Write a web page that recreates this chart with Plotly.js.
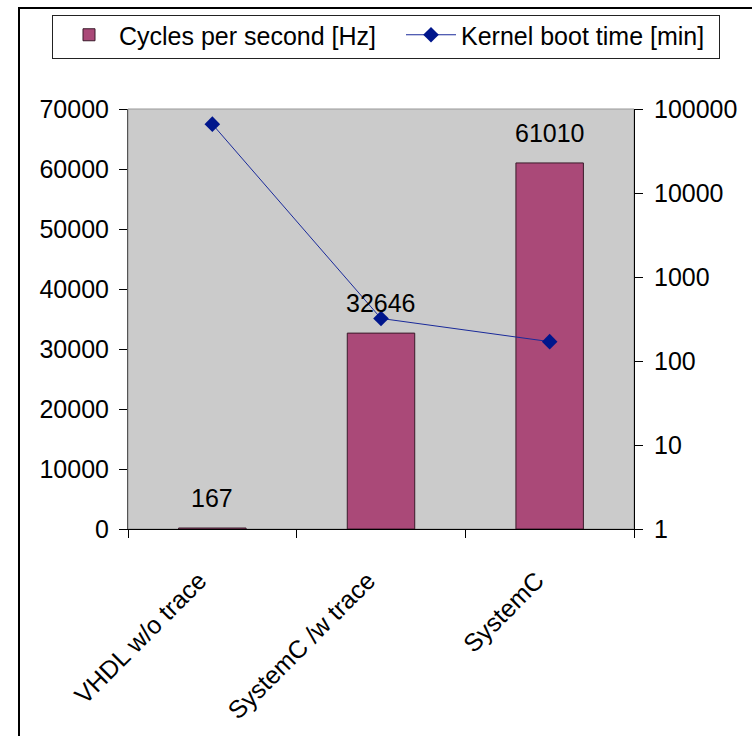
<!DOCTYPE html>
<html>
<head>
<meta charset="utf-8">
<script src="https://cdn.plot.ly/plotly-3.0.1.min.js"></script>
<style>
  html, body { margin: 0; padding: 0; background: #ffffff; }
  #frame { position: absolute; left: 18px; top: 7px; width: 760px; height: 760px; border: 2px solid #000; box-sizing: border-box; pointer-events: none; z-index: 2; }
  #legendbox { position: absolute; left: 52px; top: 15px; width: 668px; height: 44px; border: 1px solid #222; box-sizing: border-box; pointer-events: none; z-index: 2; }
  #chart { position: absolute; left: 0; top: 0; width: 752px; height: 736px; z-index: 1; }
</style>
</head>
<body>
<div id="frame"></div>
<div id="legendbox"></div>
<div id="chart"></div>
<script>
// ---- data ----
const categories = ["VHDL w/o trace", "SystemC /w trace", "SystemC"];
const cyclesPerSecond = [167, 32646, 61010];
const bootTimeMin = [66000, 321, 170];
const seriesNames = ["Cycles per second [Hz]", "Kernel boot time [min]"];

const FONT = "Liberation Sans, Arial, sans-serif";

const barTrace = {
  type: "bar",
  name: seriesNames[0],
  x: categories,
  y: cyclesPerSecond,
  width: 0.4,
  marker: { color: "#AA4978", line: { color: "#3a1a2a", width: 1 } },
  xaxis: "x",
  yaxis: "y",
  legend: "legend"
};

const lineTrace = {
  type: "scatter",
  mode: "lines+markers",
  name: seriesNames[1],
  x: categories,
  y: bootTimeMin,
  line: { color: "#1a2a9a", width: 1 },
  marker: { symbol: "diamond", size: 12, color: "#00168c" },
  xaxis: "x",
  yaxis: "y2",
  legend: "legend2"
};

const annotations = categories.map((c, i) => ({
  x: c,
  y: cyclesPerSecond[i],
  xref: "x",
  yref: "y",
  text: String(cyclesPerSecond[i]),
  showarrow: false,
  yanchor: "bottom",
  yshift: 14,
  font: { family: FONT, size: 25, color: "#000" }
}));

const nCat = categories.length;

function legendAt(xpx) {
  return {
    orientation: "h",
    xref: "container", yref: "container",
    x: xpx / 752, y: 1 - 12 / 736,
    xanchor: "left", yanchor: "top",
    borderwidth: 0,
    bgcolor: "rgba(0,0,0,0)",
    font: { family: FONT, size: 25, color: "#000" },
    itemwidth: 50
  };
}

const layout = {
  width: 752,
  height: 736,
  margin: { l: 128, r: 118, t: 109, b: 207 },
  paper_bgcolor: "rgba(0,0,0,0)",
  plot_bgcolor: "#CBCBCB",
  font: { family: FONT, size: 25, color: "#000" },
  showlegend: true,
  legend: legendAt(59),
  legend2: legendAt(401),
  xaxis: {
    type: "category",
    showgrid: false, zeroline: false,
    showline: true, linecolor: "#000", linewidth: 1,
    ticks: "outside", ticklen: 8, tickcolor: "#000", tickwidth: 1,
    tickson: "boundaries",
    tickangle: -45,
    ticklabelstandoff: 26,
    ticklabelshift: -13,
    tickfont: { family: FONT, size: 25, color: "#000" },
    fixedrange: true
  },
  xaxis2: {
    overlaying: "x",
    anchor: "y",
    range: [-0.5, nCat - 0.5],
    tick0: -0.5, dtick: 1,
    showgrid: false, zeroline: false, showline: false,
    ticks: "inside", ticklen: 8, tickcolor: "#000", tickwidth: 1,
    showticklabels: false,
    fixedrange: true
  },
  yaxis: {
    range: [0, 70000],
    dtick: 10000,
    tickformat: "d",
    showgrid: false, zeroline: false,
    showline: true, linecolor: "#555", linewidth: 1,
    ticks: "outside", ticklen: 8, tickcolor: "#000", tickwidth: 1,
    tickfont: { family: FONT, size: 25, color: "#000" },
    ticklabelstandoff: 5,
    fixedrange: true
  },
  yaxis2: {
    overlaying: "y",
    side: "right",
    anchor: "x",
    type: "log",
    range: [0, 5],
    dtick: 1,
    tickformat: "d",
    showgrid: false, zeroline: false,
    showline: true, linecolor: "#000", linewidth: 1,
    ticks: "outside", ticklen: 8, tickcolor: "#000", tickwidth: 1,
    tickfont: { family: FONT, size: 25, color: "#000" },
    ticklabelstandoff: 6,
    fixedrange: true
  },
  yaxis3: {
    overlaying: "y",
    anchor: "x",
    range: [0, 70000], dtick: 10000,
    showgrid: false, zeroline: false, showline: false,
    ticks: "inside", ticklen: 8, tickcolor: "#000", tickwidth: 1,
    showticklabels: false,
    fixedrange: true
  },
  yaxis4: {
    overlaying: "y",
    side: "right",
    anchor: "x",
    type: "log", range: [0, 5], dtick: 1,
    showgrid: false, zeroline: false, showline: false,
    ticks: "inside", ticklen: 8, tickcolor: "#000", tickwidth: 1,
    showticklabels: false,
    fixedrange: true
  },
  shapes: [{
    type: "rect", xref: "paper", yref: "paper",
    x0: 0, x1: 1, y0: 0, y1: 1,
    line: { color: "#999999", width: 1 },
    layer: "below"
  }],
  annotations: annotations
};

Plotly.newPlot("chart", [barTrace, lineTrace], layout, { displayModeBar: false, staticPlot: true });
</script>
</body>
</html>
